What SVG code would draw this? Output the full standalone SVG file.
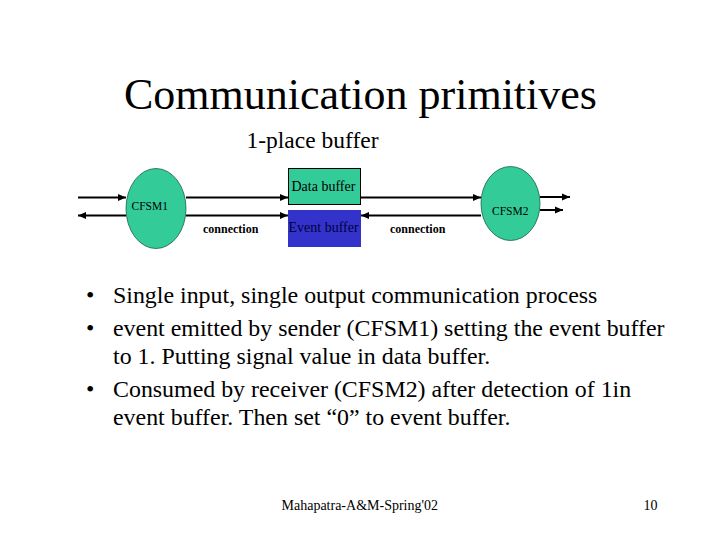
<svg xmlns="http://www.w3.org/2000/svg" width="720" height="540" viewBox="0 0 720 540">
<style>
text{font-family:"Liberation Serif","Times New Roman",serif;fill:#000}
.fsm{fill:#33cc99;stroke:#1d5e48;stroke-width:0.8}
.lbl{font-size:11.5px}
.buf{font-size:14px}
.conn{font-size:12px;font-weight:bold}
.bt{font-family:"Liberation Serif","Times New Roman",serif;font-size:23.9px}
.foot{font-size:14px}
.ln{stroke:#000;stroke-width:2;fill:none;marker-end:url(#ah)}
</style>
<defs>
<marker id="ah" markerUnits="userSpaceOnUse" markerWidth="10" markerHeight="8" refX="8" refY="4" orient="auto">
<path d="M0,0.5 L8,4 L0,7.5 Z" fill="#000"/>
</marker>
</defs>
<rect width="720" height="540" fill="#fff"/>
<text x="360.5" y="109" font-size="44" text-anchor="middle">Communication primitives</text>
<text x="246.5" y="148" font-size="23.5">1-place buffer</text>

<g id="connectors">
<path class="ln" d="M78,197.5 L126,197.5"/>
<path class="ln" d="M126,215.5 L78,215.5"/>
<path class="ln" d="M186,197.5 L288,197.5"/>
<path class="ln" d="M186,215.5 L288,215.5"/>
<path class="ln" d="M361,197.5 L481,197.5"/>
<path class="ln" d="M481,215.5 L361,215.5"/>
<path class="ln" d="M540,197 L570,197"/>
<path class="ln" d="M540,210 L563,210"/>
<text x="203" y="233" class="conn">connection</text>
<text x="390" y="233" class="conn">connection</text>
</g>

<g id="cfsm1">
<ellipse class="fsm" cx="156" cy="208.5" rx="30" ry="40"/>
<text x="131.5" y="210" class="lbl">CFSM1</text>
</g>
<g id="cfsm2">
<ellipse class="fsm" cx="510.5" cy="203.5" rx="29.5" ry="37"/>
<text x="492" y="215" class="lbl">CFSM2</text>
</g>
<g id="databuffer">
<rect x="288.5" y="168.5" width="72" height="36" fill="#33cc99" stroke="#000" stroke-width="1"/>
<text x="291.5" y="191" class="buf">Data buffer</text>
</g>
<g id="eventbuffer">
<rect x="288" y="210" width="73" height="37" fill="#3333cc"/>
<text x="288.5" y="232" class="buf" style="fill:#00003a">Event buffer</text>
</g>

<g id="bullets">
<text x="86" y="303" class="bt">•</text>
<text x="113" y="303" class="bt">Single input, single output communication process</text>
<text x="86" y="336" class="bt">•</text>
<text x="113" y="336" class="bt">event emitted by sender (CFSM1) setting the event buffer</text>
<text x="113" y="364" class="bt">to 1. Putting signal value in data buffer.</text>
<text x="86" y="397" class="bt">•</text>
<text x="113" y="397" class="bt">Consumed by receiver (CFSM2) after detection of 1in</text>
<text x="113" y="425" class="bt">event buffer. Then set “0” to event buffer.</text>
</g>

<text x="281.5" y="510" class="foot">Mahapatra-A&amp;M-Spring'02</text>
<text x="643.5" y="510" class="foot">10</text>
</svg>
